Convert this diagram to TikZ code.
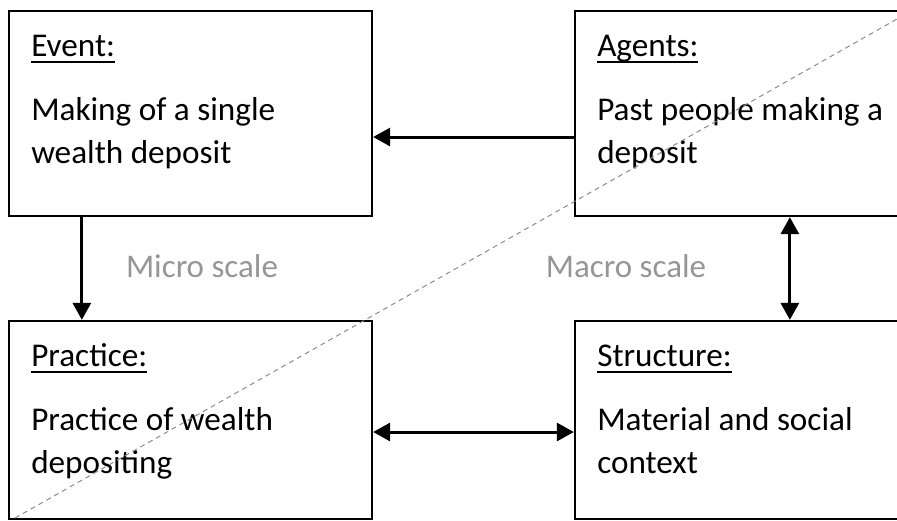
\documentclass[tikz,border=0pt]{standalone}
\usepackage{fontspec}
\setmainfont{Carlito}
\usetikzlibrary{arrows.meta}
\definecolor{scalegray}{RGB}{150,150,150}
\definecolor{dashgray}{RGB}{140,140,140}
% underlined box title, with a heavier rule
\newcommand\boxtitle[1]{\setbox0\hbox{#1}\rlap{\rule[-2.9pt]{\wd0}{0.95pt}}\box0}

\begin{document}
\begin{tikzpicture}[x=0.5pt,y=-0.5pt,
  box/.style={draw,line width=1.15pt,minimum width=181.5pt,minimum height=102.5pt,inner sep=0pt},
  lowbox/.style={box,minimum height=99pt},
  boxtext/.style={anchor=base west,align=left,inner sep=0pt,font=\fontsize{16.6pt}{21.5pt}\selectfont},
  arr/.style={line width=1.5pt,-{Triangle[length=8.5pt,width=9pt]}},
  dblarr/.style={line width=1.5pt,{Triangle[length=8.5pt,width=9pt]}-{Triangle[length=8.5pt,width=9pt]}},
  scalelabel/.style={text=scalegray,inner sep=0pt,font=\fontsize{16.5pt}{19pt}\selectfont,anchor=base}]
\useasboundingbox (0,0) rectangle (897,520);
% the four boxes
\node[box] (event) at (190.5,113.5) {};
\node[box] (agents) at (756.5,113.5) {};
\node[lowbox] (practice) at (190.5,420) {};
\node[lowbox] (structure) at (756.5,420) {};
% box texts, placed by their last baseline
\node[boxtext] (eventtext) at ([shift={(23,154)}]event.north west) {\boxtitle{Event:}\\[10.5pt]Making of a single\\wealth deposit};
\node[boxtext] (agentstext) at ([shift={(23,154)}]agents.north west) {\boxtitle{Agents:}\\[10.5pt]Past people making a\\deposit};
\node[boxtext] (practicetext) at ([shift={(23,154)}]practice.north west) {\boxtitle{Practice:}\\[10.5pt]Practice of wealth\\depositing};
\node[boxtext] (structuretext) at ([shift={(23,154)}]structure.north west) {\boxtitle{Structure:}\\[10.5pt]Material and social\\context};
% scale labels
\node[scalelabel] (micro) at (202,277) {Micro scale};
\node[scalelabel] (macro) at (626,277) {Macro scale};
% connectors
\draw[arr] ([yshift=-11.75pt]agents.west) -- ([yshift=-11.75pt]event.east);
\draw[arr] ([xshift=37pt]event.south west) -- ([xshift=37pt]practice.north west);
\draw[dblarr] ([xshift=108pt]agents.south west) -- ([xshift=108pt]structure.north west);
\draw[dblarr] ([yshift=-6pt]practice.east) -- ([yshift=-6pt]structure.west);
% dividing line
\coordinate (divstart) at (15,518);
\coordinate (divend) at (897,19);
\draw[dashgray,line width=0.5pt,dash pattern=on 2.5pt off 2pt] (divstart) -- (divend);
\end{tikzpicture}
\end{document}
